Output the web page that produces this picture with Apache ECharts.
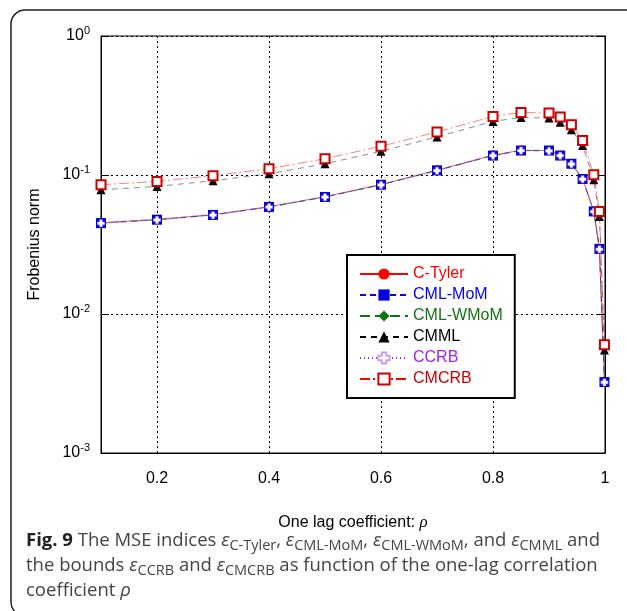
<!DOCTYPE html>
<html>
<head>
<meta charset="utf-8">
<script src="https://cdn.jsdelivr.net/npm/echarts@6/dist/echarts.min.js"></script>
<style>
html,body{margin:0;padding:0;background:#fff;}
#chart{width:627px;height:611px;}
</style>
</head>
<body>
<div id="chart"></div>
<script>
// ---- data ----
const rho = [0.1, 0.2, 0.3, 0.4, 0.5, 0.6, 0.7, 0.8, 0.85, 0.9, 0.92, 0.94, 0.96, 0.98, 0.99, 0.999];
const cTyler  = [0.0455, 0.0480, 0.0520, 0.0592, 0.0700, 0.0855, 0.1085, 0.139, 0.151, 0.150, 0.139, 0.121, 0.0940, 0.0550, 0.0296, 0.00326];
const cmlMoM  = [0.0451, 0.0477, 0.0516, 0.0589, 0.0695, 0.0851, 0.1080, 0.138, 0.150, 0.150, 0.138, 0.1205, 0.0936, 0.0547, 0.0294, 0.00324];
const cmlWMoM = [0.0450, 0.0476, 0.0515, 0.0588, 0.0694, 0.0850, 0.1075, 0.138, 0.150, 0.149, 0.138, 0.1200, 0.0934, 0.0546, 0.0293, 0.00323];
const cmml    = [0.0783, 0.0827, 0.0910, 0.1020, 0.1205, 0.148, 0.188, 0.243, 0.259, 0.257, 0.240, 0.212, 0.163, 0.0925, 0.0503, 0.0055];
const ccrb    = [0.0449, 0.0475, 0.0514, 0.0587, 0.0693, 0.0849, 0.1074, 0.1378, 0.1498, 0.1490, 0.1378, 0.1198, 0.0932, 0.0545, 0.0292, 0.00322];
const cmcrb   = [0.0851, 0.0899, 0.0989, 0.111, 0.131, 0.161, 0.204, 0.264, 0.282, 0.279, 0.261, 0.230, 0.177, 0.1005, 0.0547, 0.0060];
const seriesNames = ['C-Tyler', 'CML-MoM', 'CML-WMoM', 'CMML', 'CCRB', 'CMCRB'];
const xTickLabels = ['0.2', '0.4', '0.6', '0.8', '1'];
const yTickExponents = ['0', '-1', '-2', '-3'];

const pair = arr => rho.map((x, i) => [x, arr[i]]);
const FONT = '"Liberation Sans", Arial, sans-serif';
const CAP = '"Open Sans", sans-serif';
const plusPath = 'path://M3,0H7V3H10V7H7V10H3V7H0V3H3Z';

const chart = echarts.init(document.getElementById('chart'), null, {renderer: 'canvas'});

const capRich = {
  b: {fontWeight: 'bold', fontSize: 18.5, fontFamily: CAP, fill: '#222', lineHeight: 25},
  e: {fontStyle: 'italic', fontSize: 18.5, fontFamily: CAP, fill: '#444', lineHeight: 25},
  s: {fontSize: 14.5, fontFamily: CAP, fill: '#444', lineHeight: 17, verticalAlign: 'bottom'}
};
const capStyle = (text) => ({
  text: text, fontSize: 18.5, fontFamily: CAP, fill: '#444', lineHeight: 25, rich: capRich
});

const option = {
  animation: false,
  backgroundColor: '#fff',
  grid: {left: 101, top: 36, right: 22, bottom: 158, show: true, borderColor: '#000', borderWidth: 1, backgroundColor: 'transparent'},
  xAxis: {
    type: 'value', min: 0.1, max: 1, interval: 0.1,
    name: 'One lag coefficient: {i|ρ}', nameLocation: 'middle', nameGap: 61,
    nameTextStyle: {fontSize: 16, fontFamily: FONT, color: '#000', rich: {i: {fontStyle: 'italic', fontFamily: '"Liberation Serif", serif', fontSize: 17}}},
    axisLine: {show: true, lineStyle: {color: '#000', width: 1}},
    axisTick: {show: false},
    axisLabel: {
      fontSize: 16, fontFamily: FONT, color: '#000', margin: 18,
      formatter: v => {
        const k = Math.round(v * 10);
        if (k % 2 !== 0) return '';
        return xTickLabels[k / 2 - 1] || '';
      }
    },
    splitLine: {show: true, lineStyle: {color: ['rgba(0,0,0,0)', '#000'], type: [2, 3], width: 1}}
  },
  yAxis: [{
    type: 'log', logBase: 10, min: 0.001, max: 1,
    name: 'Frobenius norm', nameLocation: 'middle', nameGap: 58, nameRotate: 90,
    nameTextStyle: {fontSize: 16, fontFamily: FONT, color: '#000'},
    axisLine: {show: true, lineStyle: {color: '#000', width: 1}},
    axisTick: {show: true, inside: true, length: 8, lineStyle: {color: '#000'}},
    axisLabel: {
      margin: 11, color: '#000', fontFamily: FONT,
      formatter: v => {
        const e = Math.round(Math.log10(v));
        return '{b|10}{s|' + yTickExponents[-e] + '}';
      },
      rich: {
        b: {fontSize: 16, fontFamily: FONT, color: '#000', lineHeight: 22},
        s: {fontSize: 11, fontFamily: FONT, color: '#000', lineHeight: 11, verticalAlign: 'top'}
      }
    },
    splitLine: {show: true, lineStyle: {color: '#000', type: [2, 3], width: 1}}
  }, {
    type: 'log', logBase: 10, min: 0.001, max: 1, position: 'right',
    axisLine: {show: true, lineStyle: {color: '#000'}},
    axisTick: {show: true, inside: true, length: 8, lineStyle: {color: '#000'}},
    axisLabel: {show: false},
    splitLine: {show: false}
  }],
  legend: {
    orient: 'vertical', left: 347, top: 255,
    backgroundColor: '#fff', borderColor: '#000', borderWidth: 2, borderRadius: 0,
    padding: [11, 12, 11, 12],
    itemWidth: 48, itemHeight: 14, itemGap: 5,
    textStyle: {fontSize: 16, fontFamily: FONT},
    lineStyle: {opacity: 1},
    data: [
      {name: 'C-Tyler', textStyle: {color: '#ff0000'}},
      {name: 'CML-MoM', textStyle: {color: '#0000ff'}},
      {name: 'CML-WMoM', textStyle: {color: '#137313'}},
      {name: 'CMML', textStyle: {color: '#000000'}},
      {name: 'CCRB', textStyle: {color: '#a020f0'}},
      {name: 'CMCRB', textStyle: {color: '#cc0000'}}
    ]
  },
  series: [
    {name: 'C-Tyler', type: 'line', data: pair(cTyler), z: 2,
     symbol: 'circle', symbolSize: 9, itemStyle: {color: '#ff0000'},
     lineStyle: {color: '#ff0000', width: 1, type: 'solid', opacity: 0.55}},
    {name: 'CML-MoM', type: 'line', data: pair(cmlMoM), z: 4,
     symbol: 'rect', symbolSize: 10, itemStyle: {color: '#0000dd'},
     lineStyle: {color: '#0000ff', width: 1, type: [6, 4], opacity: 0.55}},
    {name: 'CML-WMoM', type: 'line', data: pair(cmlWMoM), z: 3,
     symbol: 'diamond', symbolSize: 9, itemStyle: {color: '#137313'},
     lineStyle: {color: '#137313', width: 1, type: [10, 5], opacity: 0.55}},
    {name: 'CMML', type: 'line', data: pair(cmml), z: 3,
     symbol: 'triangle', symbolSize: 9, itemStyle: {color: '#000'},
     lineStyle: {color: '#000', width: 1, type: [6, 5], opacity: 0.45}},
    {name: 'CCRB', type: 'line', data: pair(ccrb), z: 5,
     symbol: plusPath, symbolSize: 7, itemStyle: {color: '#fff', borderColor: '#c9a0ea', borderWidth: 0.6},
     lineStyle: {color: '#a020f0', width: 1, type: [1, 3], opacity: 0.55}},
    {name: 'CMCRB', type: 'line', data: pair(cmcrb), z: 5,
     symbol: 'emptyRect', symbolSize: 9, itemStyle: {color: '#cc0000', borderWidth: 2},
     lineStyle: {color: '#ff0000', width: 1, type: [10, 3, 2, 3], opacity: 0.5}}
  ],
  graphic: [
    {type: 'rect', silent: true, z: 0,
     shape: {x: 11, y: 10, width: 640, height: 606, r: 14},
     style: {fill: 'none', stroke: '#222', lineWidth: 1.5}},
    {type: 'text', x: 26, y: 528, z: 10,
     style: capStyle('{b|Fig. 9} The MSE indices {e|ε}{s|C-Tyler}, {e|ε}{s|CML-MoM}, {e|ε}{s|CML-WMoM}, and {e|ε}{s|CMML} and')},
    {type: 'text', x: 26, y: 553, z: 10,
     style: capStyle('the bounds {e|ε}{s|CCRB} and {e|ε}{s|CMCRB} as function of the one-lag correlation')},
    {type: 'text', x: 26, y: 578, z: 10,
     style: capStyle('coefficient {e|ρ}')}
  ]
};
chart.setOption(option);
</script>
</body>
</html>
